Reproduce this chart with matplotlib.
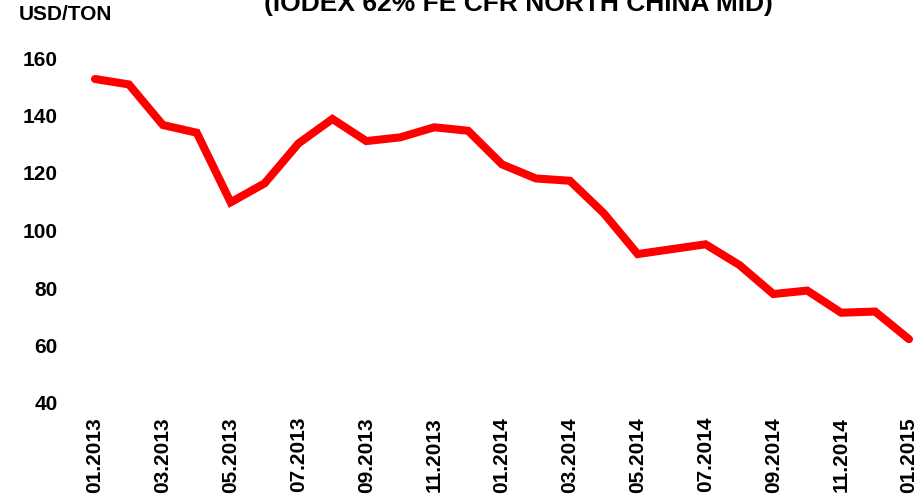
import matplotlib
matplotlib.use("Agg")
import matplotlib.pyplot as plt

months = ["01.2013", "02.2013", "03.2013", "04.2013", "05.2013", "06.2013",
          "07.2013", "08.2013", "09.2013", "10.2013", "11.2013", "12.2013",
          "01.2014", "02.2014", "03.2014", "04.2014", "05.2014", "06.2014",
          "07.2014", "08.2014", "09.2014", "10.2014", "11.2014", "12.2014",
          "01.2015"]
prices = [152.7, 150.8, 136.7, 134.0, 109.8, 116.4, 130.3, 138.8, 131.1,
          132.4, 135.9, 134.7, 123.0, 118.1, 117.3, 106.0, 91.8, 93.5, 95.2,
          88.0, 77.9, 79.1, 71.4, 71.8, 62.2]
yticks = [40, 60, 80, 100, 120, 140, 160]
title = "(IODEX 62% FE CFR NORTH CHINA MID)"
unit = "USD/TON"

plt.rcParams['font.family'] = ['Liberation Sans', 'DejaVu Sans']
plt.rcParams['font.weight'] = 'bold'

W, H = 923, 503
fig = plt.figure(figsize=(W / 100, H / 100), dpi=100)
ax = fig.add_axes([95 / W, 1 - 403 / H, (909 - 95) / W, (403 - 58) / H])

x = list(range(len(months)))
ax.plot(x, prices, color="#FF0000", lw=5.8, solid_capstyle="round",
        solid_joinstyle="miter", clip_on=False)

ax.set_xlim(0, len(months) - 1)
ax.set_ylim(40, 160)
ax.set_yticks(yticks)
ax.set_yticklabels([str(v) for v in yticks], fontsize=15, fontweight="bold")
ax.set_xticks(x[::2])
ax.set_xticklabels(months[::2], rotation=90, fontsize=15, fontweight="bold")
ax.tick_params(axis="y", length=0, pad=27)
ax.tick_params(axis="x", length=0, pad=10)
for s in ax.spines.values():
    s.set_visible(False)

fig.text(518 / W, 1 - 11 / H, title, ha="center", va="baseline",
         fontsize=19, fontweight="bold")
fig.text(19 / W, 1 - 20 / H, unit, ha="left", va="baseline",
         fontsize=15, fontweight="bold")

fig.savefig("out.png", dpi=100)
